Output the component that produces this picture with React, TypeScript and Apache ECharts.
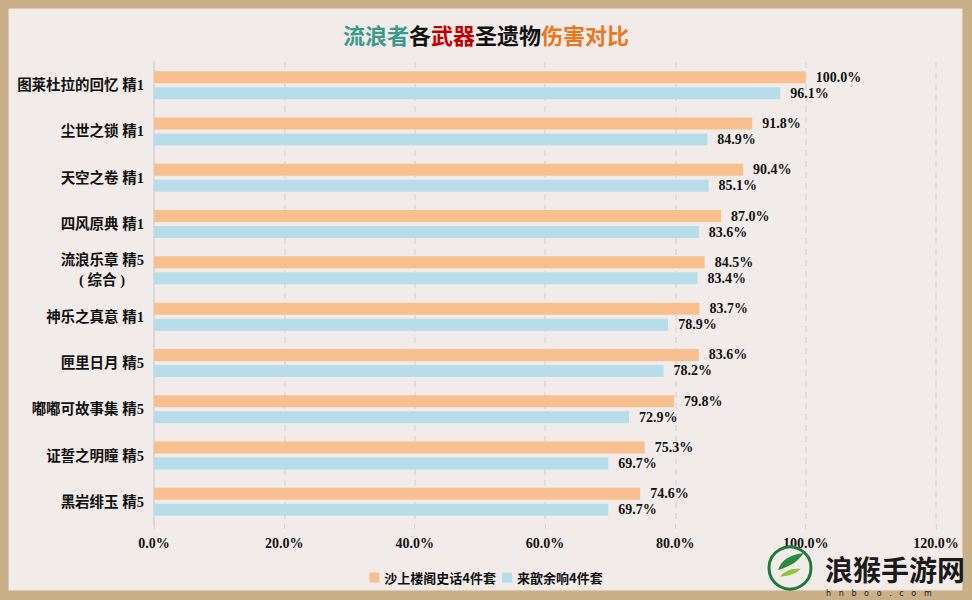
import React, { useEffect, useRef } from "react";
import * as echarts from "echarts";

const categories = [
  "图莱杜拉的回忆 精1",
  "尘世之锁 精1",
  "天空之卷 精1",
  "四风原典 精1",
  "流浪乐章 精5\n( 综合 )",
  "神乐之真意 精1",
  "匣里日月 精5",
  "嘟嘟可故事集 精5",
  "证誓之明瞳 精5",
  "黑岩绯玉 精5",
];
const seriesNames = ["沙上楼阁史话4件套", "来歆余响4件套"];
const desertValues = [100.0, 91.8, 90.4, 87.0, 84.5, 83.7, 83.6, 79.8, 75.3, 74.6];
const echoValues = [96.1, 84.9, 85.1, 83.6, 83.4, 78.9, 78.2, 72.9, 69.7, 69.7];
const xTicks = { min: 0, max: 120, interval: 20 };

const FONT = "'Liberation Serif', 'Noto Sans CJK SC', serif";
const CJK = "'Noto Sans CJK SC', 'Liberation Serif', sans-serif";

echarts.graphic.registerShape(
  "leaf1",
  echarts.graphic.extendPath("M 0 20 C 4 8 14 2 30 0 C 24 10 14 16 0 20 Z", {})
);
echarts.graphic.registerShape(
  "leaf2",
  echarts.graphic.extendPath("M 0 16 C 6 8 14 6 26 6 C 20 12 12 15 0 16 Z", {})
);

export default function App() {
  const ref = useRef<HTMLDivElement>(null);
  useEffect(() => {
    if (!ref.current) return;
    const chart = echarts.init(ref.current, undefined, { renderer: "svg" });
    const labelCfg = {
      show: true,
      position: "right" as const,
      distance: 10,
      formatter: (p: any) => p.value.toFixed(1) + "%",
      fontFamily: FONT,
      fontWeight: "bold" as const,
      fontSize: 14,
      color: "#111",
    };
    const catStyle = {
      fontFamily: FONT,
      fontWeight: "bold" as const,
      fontSize: 14.5,
      color: "#111",
      lineHeight: 20,
    };
    chart.setOption({
      animation: false,
      backgroundColor: "#c9b089",
      graphic: [
        {
          type: "rect",
          z: -10,
          shape: { x: 9, y: 9, width: 953, height: 581 },
          style: { fill: "#f1ece9", stroke: "#efe6d6", lineWidth: 1 },
        },
        {
          type: "circle",
          z: 10,
          shape: { cx: 790, cy: 568, r: 21 },
          style: { fill: "none", stroke: "#1f7a3a", lineWidth: 3 },
        },
        {
          type: "leaf1",
          z: 11,
          x: 778,
          y: 553,
          scaleX: 0.85,
          scaleY: 0.85,
          style: { fill: "#2e8b3e" },
        },
        {
          type: "leaf2",
          z: 11,
          x: 780,
          y: 564,
          scaleX: 0.8,
          scaleY: 0.8,
          style: { fill: "#8cc63f" },
        },
        {
          type: "text",
          z: 10,
          left: 825,
          top: 555,
          style: {
            text: "浪猴手游网",
            fontSize: 28,
            fontWeight: "bold",
            fontFamily: CJK,
            fill: "#1a1a1a",
          },
        },
        {
          type: "text",
          z: 10,
          left: 826,
          top: 589,
          style: {
            text: "h   n   b   o   o   .   c   o   m",
            fontSize: 8,
            fontFamily: "'DejaVu Sans', sans-serif",
            fill: "#222",
          },
        },
      ],
      title: {
        text: "{a|流浪者}{b|各}{c|武器}{b|圣遗物}{d|伤害对比}",
        left: "center",
        top: 18,
        textStyle: {
          rich: {
            a: { fontSize: 22, fontWeight: "bold", fontFamily: CJK, color: "#3a9a8c" },
            b: { fontSize: 22, fontWeight: "bold", fontFamily: CJK, color: "#111" },
            c: { fontSize: 22, fontWeight: "bold", fontFamily: CJK, color: "#c00000" },
            d: { fontSize: 22, fontWeight: "bold", fontFamily: CJK, color: "#e8771e" },
          },
        },
      },
      legend: {
        data: seriesNames,
        left: "center",
        top: 566,
        icon: "rect",
        itemWidth: 10,
        itemHeight: 10,
        itemGap: 6,
        textStyle: { fontFamily: CJK, fontWeight: "bold", fontSize: 13, color: "#111" },
      },
      grid: { left: 154, right: 36, top: 62, bottom: 75, containLabel: false },
      xAxis: {
        type: "value",
        min: xTicks.min,
        max: xTicks.max,
        interval: xTicks.interval,
        axisLine: { show: false },
        axisTick: { show: true, length: 4, lineStyle: { color: "#d4d4d4" } },
        axisLabel: {
          formatter: (v: number) => v.toFixed(1) + "%",
          fontFamily: FONT,
          fontWeight: "bold",
          fontSize: 14,
          color: "#111",
          margin: 11,
        },
        splitLine: { show: true, lineStyle: { color: "#d9d9d9", type: [6, 5], width: 1.5 } },
      },
      yAxis: {
        type: "category",
        data: categories,
        inverse: true,
        axisLine: { show: true, lineStyle: { color: "#d9d9d9", width: 2 } },
        axisTick: { show: false },
        axisLabel: {
          ...catStyle,
          margin: 10,
          align: "right",
          formatter: (v: string) => {
            const lines = v.split("\n");
            if (lines.length === 1) return "{m|" + v + "}";
            return "{m|" + lines[0] + "}\n{p|" + lines[1] + "}";
          },
          rich: {
            m: { ...catStyle },
            p: { ...catStyle, padding: [0, 19, 0, 0] },
          },
        },
      },
      series: [
        {
          name: seriesNames[0],
          type: "bar",
          data: desertValues,
          barWidth: 12,
          barGap: "33%",
          itemStyle: { color: "#f9c08f" },
          label: labelCfg,
        },
        {
          name: seriesNames[1],
          type: "bar",
          data: echoValues,
          barWidth: 12,
          itemStyle: { color: "#b7dde8" },
          label: labelCfg,
        },
      ],
    });
    return () => chart.dispose();
  }, []);
  return (
    <div
      ref={ref}
      style={{ position: "fixed", left: 0, top: 0, width: 972, height: 600 }}
    />
  );
}
